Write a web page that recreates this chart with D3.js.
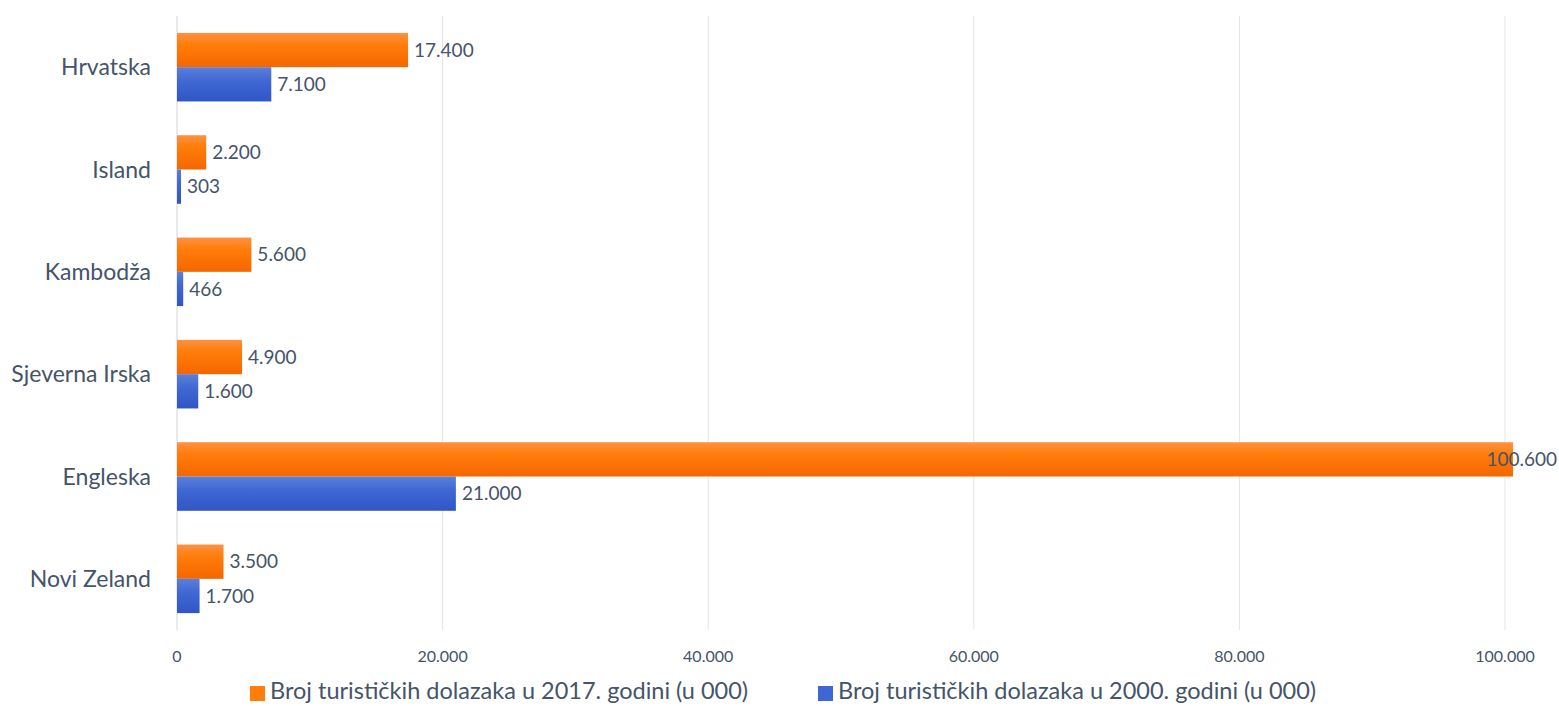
<!DOCTYPE html>
<html>
<head>
<meta charset="utf-8">
<script src="https://cdn.jsdelivr.net/npm/d3@7"></script>
<style>
  body { margin: 0; background: #fff; }
  text { font-family: Lato, "Open Sans", sans-serif; fill: #44546a; }
</style>
</head>
<body>
<svg id="canvas"></svg>
<script>
// tourist arrivals (in 000)
let countries = ['Hrvatska', 'Island', 'Kambodža', 'Sjeverna Irska', 'Engleska', 'Novi Zeland']
let arrivals2017 = [17400, 2200, 5600, 4900, 100600, 3500]
let arrivals2000 = [7100, 303, 466, 1600, 21000, 1700]
let seriesNames = ['Broj turističkih dolazaka u 2017. godini (u 000)', 'Broj turističkih dolazaka u 2000. godini (u 000)']
let xTicks = [0, 20000, 40000, 60000, 80000, 100000]

let width = 1559
let height = 706
let plotLeft = 177
let plotRight = 1505
let plotTop = 16
let plotBottom = 630

let locale = d3.formatLocale({ decimal: ',', thousands: '.', grouping: [3], currency: ['', ''] })
let fmt = locale.format(',')

let svg = d3.select('#canvas')
            .attr('width', width)
            .attr('height', height)

let defs = svg.append('defs')
let grad = (id, stops) => {
    let g = defs.append('linearGradient').attr('id', id)
                .attr('x1', 0).attr('y1', 0).attr('x2', 0).attr('y2', 1)
    stops.forEach(s => g.append('stop').attr('offset', s[0]).attr('stop-color', s[1]))
}
grad('gOrange', [[0, '#ff9142'], [0.35, '#ff7d0a'], [1, '#f56600']])
grad('gBlue', [[0, '#5b7fd9'], [0.4, '#4068d3'], [1, '#2f56c5']])

let x = d3.scaleLinear().domain([0, 100000]).range([plotLeft, plotRight])
let y = d3.scaleBand().domain(countries).range([plotTop, plotBottom])
          .paddingInner(0.33).paddingOuter(0.165)

// gridlines
svg.append('g').selectAll('line')
   .data(xTicks)
   .enter()
   .append('line')
   .attr('x1', d => x(d)).attr('x2', d => x(d))
   .attr('y1', plotTop).attr('y2', plotBottom)
   .attr('stroke', d => d === 0 ? '#d0d4da' : '#e3e5e8')
   .attr('stroke-width', 1)

// x axis labels
svg.append('g').selectAll('text')
   .data(xTicks)
   .enter()
   .append('text')
   .attr('x', d => x(d))
   .attr('y', 656)
   .attr('dy', '0.35em')
   .attr('text-anchor', 'middle')
   .style('font-size', '16px')
   .text(d => fmt(d))

// category labels
svg.append('g').selectAll('text')
   .data(countries)
   .enter()
   .append('text')
   .attr('x', 151)
   .attr('y', d => y(d) + y.bandwidth() / 2)
   .attr('dy', '0.35em')
   .attr('text-anchor', 'end')
   .style('font-size', '23px')
   .text(d => d)

let bh = y.bandwidth() / 2
let series = [
    { values: arrivals2017, fill: 'url(#gOrange)', off: 0 },
    { values: arrivals2000, fill: 'url(#gBlue)', off: bh }
]

series.forEach(s => {
    let g = svg.append('g')
    g.selectAll('rect')
     .data(countries)
     .enter()
     .append('rect')
     .attr('x', x(0))
     .attr('y', (d) => y(d) + s.off)
     .attr('width', (d, i) => x(s.values[i]) - x(0))
     .attr('height', bh)
     .attr('fill', s.fill)

    g.selectAll('text')
     .data(countries)
     .enter()
     .append('text')
     .attr('x', (d, i) => x(s.values[i]) + 6)
     .attr('y', (d) => y(d) + s.off + bh / 2)
     .attr('dy', '0.35em')
     .style('font-size', '19px')
     .text((d, i) => fmt(s.values[i]))
     .each(function () {
         let w = this.getComputedTextLength()
         let tx = +d3.select(this).attr('x')
         if (tx + w > width - 2) d3.select(this).attr('x', width - 2 - w)
     })
})

// legend
let legendX = [250, 818]
let legendColors = ['#ff7d0a', '#3f66d2']
let legend = svg.append('g').attr('id', 'legend')
seriesNames.forEach((name, i) => {
    legend.append('rect')
          .attr('x', legendX[i]).attr('y', 686)
          .attr('width', 15).attr('height', 15)
          .attr('fill', legendColors[i])
    legend.append('text')
          .attr('x', legendX[i] + 20).attr('y', 691)
          .attr('dy', '0.35em')
          .style('font-size', '23.5px')
          .text(name)
})
</script>
</body>
</html>
